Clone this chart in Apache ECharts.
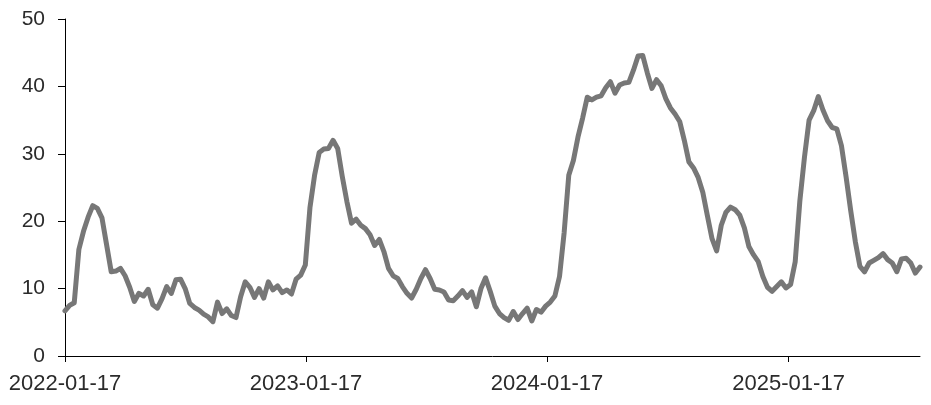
<!DOCTYPE html>
<html><head><meta charset="utf-8">
<script src="https://cdn.jsdelivr.net/npm/echarts@6/dist/echarts.min.js"></script>
<style>html,body{margin:0;padding:0;background:#fff}#c{width:931px;height:405px}</style>
</head><body><div id="c"></div>
<script>
// Weekly series starting 2022-01-17 (x = days since start)
const weekStepDays = 7;
const values = [
6.7,7.5,7.9,15.8,18.5,20.6,22.3,21.9,20.5,16.5,
12.5,12.6,13.0,11.9,10.2,8.1,9.3,8.9,9.9,7.6,
7.1,8.5,10.3,9.3,11.3,11.4,10.0,7.8,7.2,6.8,
6.2,5.8,5.1,8.0,6.3,7.0,6.0,5.7,8.8,11.0,
10.2,8.7,10.0,8.6,11.0,9.8,10.4,9.4,9.8,9.2,
11.4,12.0,13.5,22.0,26.8,30.2,30.7,30.8,32.0,30.8,
26.6,22.9,19.7,20.3,19.4,18.9,18.0,16.4,17.3,15.5,
13.0,11.9,11.5,10.3,9.3,8.6,9.9,11.5,12.8,11.5,
9.9,9.8,9.5,8.3,8.2,8.9,9.7,8.7,9.5,7.3,
10.0,11.6,9.6,7.4,6.3,5.7,5.3,6.6,5.4,6.3,
7.1,5.2,6.9,6.5,7.4,8.0,8.9,11.8,18.3,26.8,
29.0,32.5,35.3,38.4,38.0,38.4,38.6,39.8,40.7,39.0,
40.2,40.5,40.6,42.4,44.5,44.6,42.0,39.7,41.0,40.1,
38.2,36.8,35.9,34.8,32.0,28.8,27.9,26.5,24.3,20.8,
17.4,15.6,19.4,21.3,22.1,21.7,20.9,19.0,16.2,15.0,
14.0,11.8,10.2,9.6,10.3,11.0,10.1,10.6,14.0,23.0,
29.5,35.0,36.4,38.5,36.5,34.9,33.9,33.7,31.2,26.6,
21.6,17.0,13.3,12.5,13.8,14.2,14.6,15.2,14.3,13.8,
12.5,14.4,14.5,13.8,12.3,13.2
];
const tickDays = [0, 365, 730, 1096];
const tickLabels = ['2022-01-17', '2023-01-17', '2024-01-17', '2025-01-17'];
const yMin = 0, yMax = 50, yStep = 10;

const chart = echarts.init(document.getElementById('c'), null, {renderer: 'canvas'});
const font = "'Liberation Sans', Arial, sans-serif";
chart.setOption({
  animation: false,
  backgroundColor: '#ffffff',
  grid: {left: 65, right: 11, top: 19, bottom: 49},
  xAxis: {
    type: 'value',
    min: 0,
    max: (values.length - 1) * weekStepDays,
    splitLine: {show: false},
    axisLine: {show: true, lineStyle: {color: '#000', width: 1}},
    axisTick: {show: true, customValues: tickDays, length: 6, lineStyle: {color: '#000'}},
    axisLabel: {
      customValues: tickDays,
      margin: 17,
      fontSize: 22,
      fontFamily: font,
      color: '#2b2b2b',
      formatter: v => tickLabels[tickDays.indexOf(v)] || ''
    }
  },
  yAxis: {
    type: 'value',
    min: yMin, max: yMax, interval: yStep,
    splitLine: {show: false},
    axisLine: {show: true, lineStyle: {color: '#000', width: 1}},
    axisTick: {show: true, length: 7, lineStyle: {color: '#000'}},
    axisLabel: {margin: 20, fontSize: 21, fontFamily: font, color: '#2b2b2b'}
  },
  series: [{
    type: 'line',
    data: values.map((v, i) => [i * weekStepDays, v]),
    showSymbol: false,
    lineStyle: {color: '#777777', width: 5, join: 'round', cap: 'round'}
  }]
});
</script>
</body></html>
